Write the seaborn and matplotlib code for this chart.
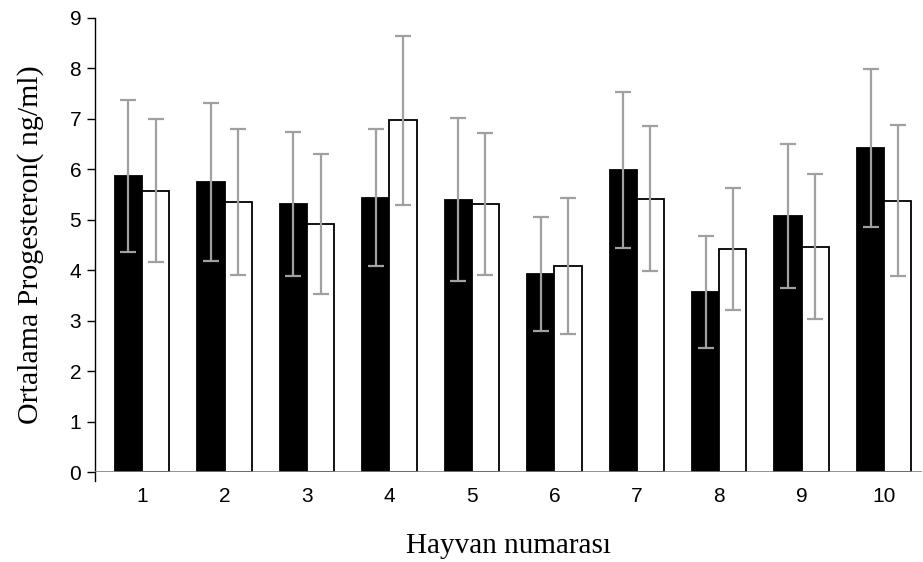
import matplotlib
matplotlib.use("Agg")
import matplotlib.pyplot as plt
import numpy as np
import pandas as pd
import seaborn as sns

# values
hayvan = ["1", "2", "3", "4", "5", "6", "7", "8", "9", "10"]
grup1_mean = [5.87, 5.75, 5.32, 5.44, 5.40, 3.93, 5.99, 3.57, 5.07, 6.42]
grup1_err = [1.51, 1.57, 1.43, 1.35, 1.61, 1.13, 1.55, 1.11, 1.43, 1.57]
grup2_mean = [5.58, 5.35, 4.91, 6.97, 5.31, 4.08, 5.42, 4.43, 4.47, 5.38]
grup2_err = [1.41, 1.45, 1.39, 1.67, 1.41, 1.35, 1.43, 1.21, 1.43, 1.49]
y_ticks = [0, 1, 2, 3, 4, 5, 6, 7, 8, 9]

df = pd.DataFrame({
    "Hayvan": hayvan * 2,
    "Grup": ["Grup 1"] * len(hayvan) + ["Grup 2"] * len(hayvan),
    "Progesteron": grup1_mean + grup2_mean,
    "Hata": grup1_err + grup2_err,
})

sns.set_style("white")
plt.rcParams["font.family"] = ["Liberation Sans", "DejaVu Sans"]
plt.rcParams["text.color"] = "black"
plt.rcParams["axes.labelcolor"] = "black"
plt.rcParams["xtick.color"] = "black"
plt.rcParams["ytick.color"] = "black"

fig = plt.figure(figsize=(9.23, 5.62), dpi=100)
ax = fig.add_axes([0.103, 0.160, 0.896, 0.808])

sns.barplot(data=df, x="Hayvan", y="Progesteron", hue="Grup", order=hayvan,
            hue_order=["Grup 1", "Grup 2"], palette=["black", "white"],
            edgecolor="black", linewidth=1.3, width=0.66, gap=0,
            errorbar=None, legend=False, ax=ax)

# error bars placed on the bar centres that seaborn laid out
for container, (_, sub) in zip(ax.containers, df.groupby("Grup", sort=True)):
    sub = sub.set_index("Hayvan").loc[hayvan]
    xs = [p.get_x() + p.get_width() / 2 for p in container]
    ax.errorbar(xs, sub["Progesteron"], yerr=sub["Hata"], fmt="none",
                ecolor="#a0a0a0", elinewidth=1.6, capsize=5.5, capthick=1.6,
                zorder=3)

ax.set_xlim(-0.57, 9.46)
ax.set_ylim(0, 9)
ax.set_yticks(y_ticks)
ax.axhline(0, color="#808080", linewidth=1.2, zorder=4)

for side in ["top", "right", "bottom"]:
    ax.spines[side].set_visible(False)
ax.spines["left"].set_color("black")
ax.spines["left"].set_linewidth(1.0)
ax.spines["left"].set_bounds(-0.18, 9)
ax.spines["left"].set_clip_on(False)

ax.tick_params(axis="y", direction="out", length=6, width=1.0,
               labelsize=15, pad=4, left=True)
ax.tick_params(axis="x", length=0, labelsize=15, pad=11)

ax.set_xlabel("Hayvan numarası", family=["Liberation Serif", "DejaVu Serif"],
              fontsize=21, labelpad=19)
ax.set_ylabel("Ortalama Progesteron( ng/ml)",
              family=["Liberation Serif", "DejaVu Serif"], fontsize=21.5,
              labelpad=18)

fig.savefig("out.png", dpi=100)
plt.close(fig)
